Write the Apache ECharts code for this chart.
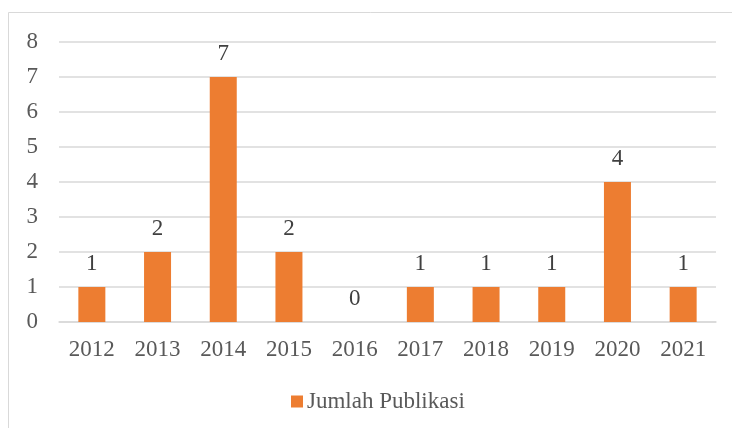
<!DOCTYPE html>
<html>
<head>
<meta charset="utf-8">
<script src="https://cdn.jsdelivr.net/npm/echarts@6/dist/echarts.min.js"></script>
<style>
  html, body { margin: 0; padding: 0; background: #fff; }
  #chart { width: 732px; height: 428px; }
</style>
</head>
<body>
<div id="chart"></div>
<script>
// data
var years = ["2012", "2013", "2014", "2015", "2016", "2017", "2018", "2019", "2020", "2021"];
var publikasi = [1, 2, 7, 2, 0, 1, 1, 1, 4, 1];
var seriesName = "Jumlah Publikasi";

var textColor = "#595959";
var font = "'Liberation Serif', 'Times New Roman', serif";
var fs = 23;

var chart = echarts.init(document.getElementById("chart"));

var option = {
  backgroundColor: "#fff",
  animation: false,
  textStyle: { fontFamily: font },
  // outer frame of the chart area
  graphic: [
    {
      type: "rect",
      shape: { x: 8.5, y: 12.5, width: 740, height: 440 },
      style: { fill: "none", stroke: "#d9d9d9", lineWidth: 1 }
    }
  ],
  grid: {
    left: 59,
    right: 16,
    top: 42,
    bottom: 106
  },
  legend: {
    data: [seriesName],
    left: 291,
    top: 390,
    padding: 0,
    icon: "rect",
    itemWidth: 12,
    itemHeight: 12,
    itemGap: 4,
    textStyle: { color: textColor, fontSize: fs, fontFamily: font, padding: [0, 0, 0, -1] }
  },
  xAxis: {
    type: "category",
    data: years,
    axisLine: { lineStyle: { color: "#d9d9d9", width: 1.5 } },
    axisTick: { show: false },
    axisLabel: {
      color: textColor,
      fontSize: fs,
      fontFamily: font,
      margin: 16
    }
  },
  yAxis: {
    type: "value",
    min: 0,
    max: 8,
    interval: 1,
    axisLine: { show: false },
    axisTick: { show: false },
    axisLabel: {
      color: textColor,
      fontSize: fs,
      fontFamily: font,
      margin: 21
    },
    splitLine: { lineStyle: { color: "#d9d9d9", width: 1.5 } }
  },
  series: [
    {
      name: seriesName,
      type: "bar",
      data: publikasi,
      barWidth: 27,
      itemStyle: { color: "#ED7D31" },
      label: {
        show: true,
        position: "top",
        distance: 12,
        color: "#404040",
        fontSize: fs,
        fontFamily: font
      }
    }
  ]
};

chart.setOption(option);
</script>
</body>
</html>
